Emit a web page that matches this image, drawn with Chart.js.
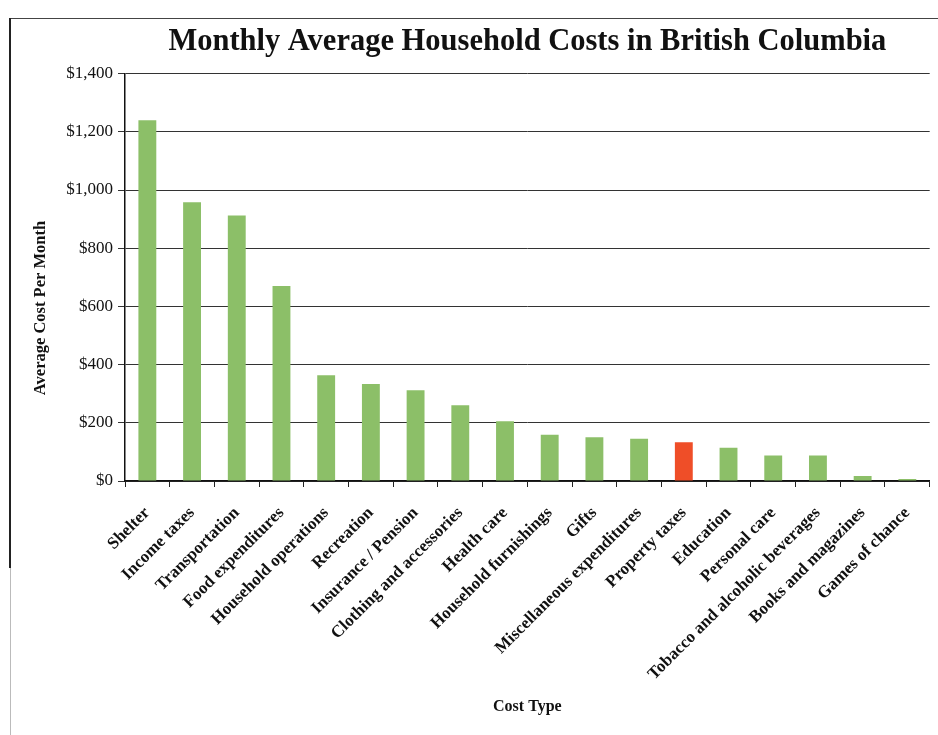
<!DOCTYPE html>
<html>
<head>
<meta charset="utf-8">
<script src="https://cdn.jsdelivr.net/npm/chart.js@4/dist/chart.umd.min.js"></script>
<style>
  html, body { margin: 0; padding: 0; background: #fff; }
  #wrap { position: relative; width: 938px; height: 735px; overflow: hidden; }
  #frameTop { position: absolute; left: 10px; top: 18px; width: 928px; height: 0; border-top: 1px solid #444; }
  #frameLeft { position: absolute; left: 9px; top: 18px; width: 0; height: 550px; border-left: 2px solid #222; }
  #frameLeft2 { position: absolute; left: 10px; top: 568px; width: 0; height: 167px; border-left: 1px solid #bbb; }
  canvas { position: absolute; left: 0; top: 0; }
</style>
</head>
<body>
<div id="wrap">
  <div id="frameTop"></div>
  <div id="frameLeft"></div>
  <div id="frameLeft2"></div>
  <canvas id="chart" width="938" height="735"></canvas>
</div>
<script>
// Monthly average household spending by cost type (dollars)
const categories = [
  'Shelter', 'Income taxes', 'Transportation', 'Food expenditures',
  'Household operations', 'Recreation', 'Insurance / Pension',
  'Clothing and accessories', 'Health care', 'Household furnishings',
  'Gifts', 'Miscellaneous expenditures', 'Property taxes', 'Education',
  'Personal care', 'Tobacco and alcoholic beverages', 'Books and magazines',
  'Games of chance'
];
const monthlyCost = [
  1240, 958, 912, 670, 363, 333, 312, 260, 205, 159,
  150, 145, 133, 114, 88, 88, 17, 7
];
const highlighted = 'Property taxes';
const yTicks = [0, 200, 400, 600, 800, 1000, 1200, 1400];

const GREEN = '#8cbf68';
const RED = '#ef4e28';
const SERIF = '"Liberation Serif", "Times New Roman", serif';

const barColors = categories.map(c => c === highlighted ? RED : GREEN);

// Vertical y-axis caption, placed a little below the axis midpoint
const yCaption = {
  id: 'yCaption',
  afterDraw(chart) {
    const ctx = chart.ctx;
    ctx.save();
    ctx.translate(41, 308);
    ctx.rotate(-Math.PI / 2);
    ctx.font = 'bold 16.5px ' + SERIF;
    ctx.fillStyle = '#111';
    ctx.textAlign = 'center';
    ctx.textBaseline = 'middle';
    ctx.fillText('Average Cost Per Month', 0, 0);
    ctx.restore();
  }
};

new Chart(document.getElementById('chart'), {
  type: 'bar',
  data: {
    labels: categories,
    datasets: [{
      data: monthlyCost,
      backgroundColor: barColors,
      borderWidth: 0,
      barPercentage: 0.8,
      categoryPercentage: 0.5
    }]
  },
  options: {
    responsive: false,
    animation: false,
    devicePixelRatio: 1,
    layout: { padding: { left: 0, right: 8, top: 0, bottom: 0 } },
    plugins: {
      legend: { display: false },
      tooltip: { enabled: false },
      title: {
        display: true,
        fullSize: false,
        text: 'Monthly Average Household Costs in British Columbia',
        color: '#111',
        font: { family: SERIF, size: 30.5, weight: 'bold', lineHeight: 1.2 },
        padding: { top: 24, bottom: 13 }
      }
    },
    scales: {
      x: {
        grid: {
          display: true,
          offset: true,
          drawOnChartArea: false,
          drawTicks: true,
          tickLength: 6,
          color: '#222',
          lineWidth: 1
        },
        border: { display: true, color: '#111', width: 1.5 },
        ticks: {
          autoSkip: false,
          maxRotation: 45,
          minRotation: 45,
          padding: 16,
          color: '#111',
          font: { family: SERIF, size: 17, weight: 'bold' }
        },
        title: {
          display: true,
          text: 'Cost Type',
          color: '#111',
          font: { family: SERIF, size: 16, weight: 'bold', lineHeight: 1.2 },
          padding: { top: 0, bottom: 19 }
        },
        afterFit(scale) { scale.height = 254; }
      },
      y: {
        min: 0,
        max: 1400,
        afterBuildTicks(scale) { scale.ticks = yTicks.map(v => ({ value: v })); },
        grid: {
          color: '#333',
          lineWidth: 1,
          drawTicks: true,
          tickLength: 7
        },
        border: { display: true, color: '#111', width: 1.5 },
        ticks: {
          padding: 5,
          color: '#111',
          font: { family: SERIF, size: 17 },
          callback: v => '$' + Number(v).toLocaleString('en-US')
        },
        afterFit(scale) { scale.width = 125; }
      }
    }
  },
  plugins: [yCaption]
});
</script>
</body>
</html>
